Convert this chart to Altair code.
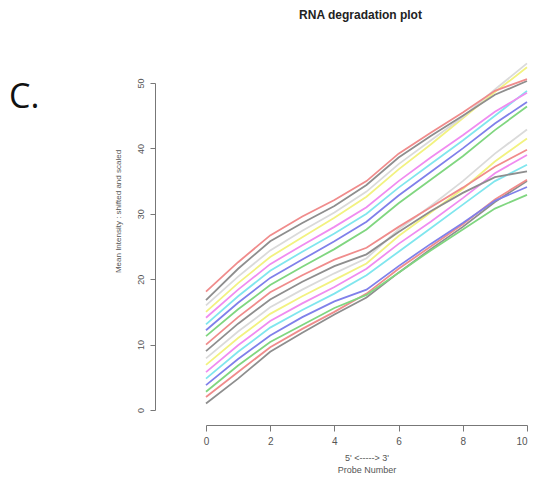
import altair as alt
import pandas as pd

probe = [0, 1, 2, 3, 4, 5, 6, 7, 8, 9, 10]

# R default palette cycling (washed-out look of the figure)
series_names = [f"S{i:02d}" for i in range(18)]
series_colors = [
    "#8e8e8e", "#f08c8c", "#80d680", "#8080ea", "#80e6ee", "#f08cf0", "#f2f280", "#dadada",
    "#8e8e8e", "#f08c8c", "#80d680", "#8080ea", "#80e6ee", "#f08cf0", "#f2f280", "#dadada",
    "#8e8e8e", "#f08c8c",
]

s00 = [1.0, 4.8, 8.9, 11.8, 14.6, 17.2, 21.0, 24.6, 28.0, 31.8, 35.0]
s01 = [2.0, 5.8, 9.6, 12.4, 15.0, 17.8, 21.6, 25.0, 28.4, 32.2, 35.2]
s02 = [2.8, 6.8, 10.4, 13.0, 15.6, 17.6, 21.0, 24.4, 27.6, 30.8, 32.9]
s03 = [3.8, 7.8, 11.4, 14.2, 16.6, 18.4, 22.0, 25.4, 28.6, 32.0, 34.1]
s04 = [4.8, 8.9, 12.6, 15.3, 17.8, 20.6, 24.2, 27.8, 31.4, 35.0, 37.5]
s05 = [5.8, 9.9, 13.6, 16.3, 18.8, 21.6, 25.4, 28.8, 32.4, 36.2, 39.0]
s06 = [6.9, 11.0, 14.7, 17.4, 19.9, 22.4, 26.6, 30.2, 33.8, 38.0, 41.5]
s07 = [7.9, 12.0, 15.7, 18.4, 20.9, 23.2, 27.6, 31.2, 35.0, 39.2, 42.9]
s08 = [9.0, 13.2, 16.9, 19.6, 22.0, 23.8, 27.2, 30.4, 33.2, 35.6, 36.5]
s09 = [10.0, 14.2, 18.0, 20.6, 23.0, 24.8, 28.0, 31.0, 34.0, 37.2, 39.8]
s10 = [11.3, 15.4, 19.1, 21.9, 24.6, 27.6, 31.6, 35.2, 38.8, 42.8, 46.4]
s11 = [12.2, 16.4, 20.2, 23.0, 25.8, 28.8, 32.8, 36.4, 40.0, 43.8, 47.1]
s12 = [13.1, 17.4, 21.3, 24.2, 27.0, 30.0, 34.0, 37.6, 41.2, 45.0, 48.8]
s13 = [14.1, 18.4, 22.3, 25.2, 28.0, 31.0, 35.0, 38.6, 42.0, 45.6, 48.5]
s14 = [15.0, 19.4, 23.4, 26.4, 29.4, 32.6, 36.8, 40.6, 44.6, 48.6, 52.4]
s15 = [16.0, 20.4, 24.4, 27.4, 30.2, 33.4, 37.6, 41.2, 44.8, 49.0, 53.0]
s16 = [16.8, 21.6, 25.8, 28.6, 31.2, 34.4, 38.6, 41.9, 45.0, 48.2, 50.3]
s17 = [18.1, 22.6, 26.7, 29.6, 32.1, 35.0, 39.2, 42.4, 45.5, 48.8, 50.6]

all_series = [s00, s01, s02, s03, s04, s05, s06, s07, s08, s09,
              s10, s11, s12, s13, s14, s15, s16, s17]

y_ticks = [0, 10, 20, 30, 40, 50]
x_ticks = [0, 2, 4, 6, 8, 10]

rows = []
for i, (name, vals) in enumerate(zip(series_names, all_series)):
    for p, v in zip(probe, vals):
        rows.append({"series": name, "idx": i, "probe": p, "value": v})
df = pd.DataFrame(rows)

lines = alt.Chart(df).mark_line(strokeWidth=1.8).encode(
    x=alt.X("probe:Q",
            scale=alt.Scale(domain=[0, 10], nice=False, zero=False),
            axis=alt.Axis(values=x_ticks, offset=15, tickSize=6, labelFontSize=10,
                          labelPadding=5, labelFlush=False, labelOverlap=False,
                          labelAlign={"condition": {"test": "datum.value == 10", "value": "right"},
                                      "value": "center"},
                          title=["5' <-----> 3'", "Probe Number"], titleFontSize=9,
                          titleFontWeight="normal", titlePadding=7, titleLineHeight=12,
                          grid=False)),
    y=alt.Y("value:Q",
            scale=alt.Scale(domain=[0, 50], nice=False, zero=False),
            axis=alt.Axis(values=y_ticks, offset=51, tickSize=5, labelAngle=270,
                          labelAlign="center", labelBaseline="bottom", labelPadding=5,
                          labelFontSize=9, title="Mean Intensity : shifted and scaled",
                          titleFontSize=8, titleFontWeight="normal", titleAngle=270,
                          titleX=-37, titleY=128, titleAlign="center",
                          titleBaseline="middle", grid=False)),
    color=alt.Color("series:N", scale=alt.Scale(domain=series_names, range=series_colors),
                    legend=None),
    order=alt.Order("idx:Q"),
)

panel = alt.Chart(pd.DataFrame({"label": ["C."]})).mark_text(
    align="left", baseline="middle", fontSize=34, font="Open Sans", color="#111"
).encode(text="label:N", x=alt.value(-197), y=alt.value(15))

chart = alt.layer(lines, panel).properties(
    width=321, height=327,
    autosize=alt.AutoSizeParams(type="none"),
    padding={"left": 198, "top": 75, "right": 3, "bottom": 66},
    title=alt.TitleParams("RNA degradation plot", anchor="middle", fontSize=12,
                          fontWeight="bold", font="Liberation Sans", color="#222",
                          dx=-6, offset=38),
).configure_view(stroke=None).configure_axis(
    labelFont="Liberation Sans", titleFont="Liberation Sans",
    labelColor="#555", titleColor="#555", domainColor="#777", tickColor="#777",
)

chart.save("out.html", embed_options={"renderer": "svg", "actions": False})
